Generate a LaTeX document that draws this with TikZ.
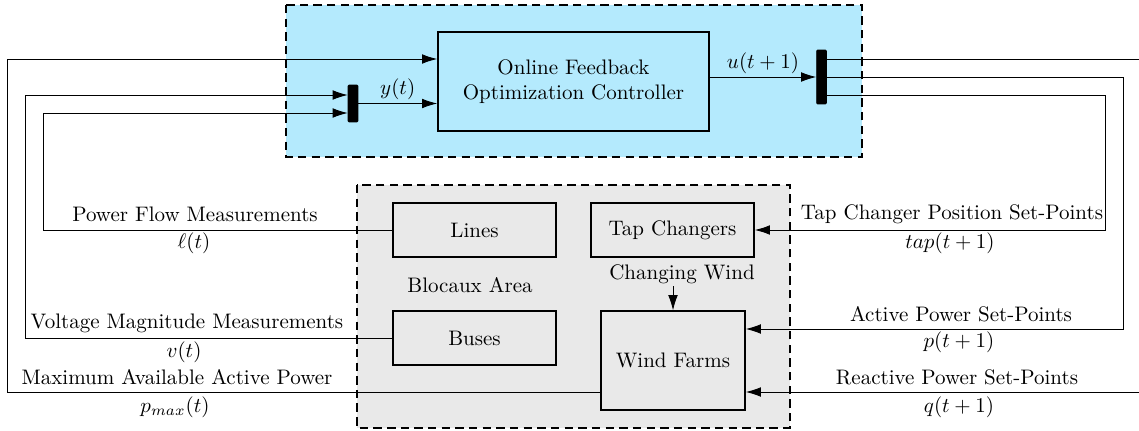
\documentclass[tikz,border=0pt]{standalone}
\usetikzlibrary{arrows.meta}
\definecolor{ctrlblue}{RGB}{180,234,253}
\definecolor{areagray}{RGB}{233,233,233}

\begin{document}
\begin{tikzpicture}[x=0.476pt,y=-0.476pt,
    block/.style={draw,thick,minimum width=77.6pt,minimum height=25.7pt,inner sep=2pt},
    mux/.style={draw,fill=black,rounded corners=0.5pt,minimum width=4.6pt,inner sep=0pt},
    sig/.style={-{Latex[length=7.2pt,width=4.6pt]}},
    zone/.style={thick,dash pattern=on 4pt off 2.5pt}]
    \useasboundingbox (0,0) rectangle (1139,431);
    \filldraw[zone,fill=ctrlblue] (286,5) rectangle (862,157);
    \filldraw[zone,fill=areagray] (357,185) rectangle (790,428);
    \node[block,minimum width=129pt,minimum height=47pt,align=center] (ofo) at (573.5,81.5) {Online Feedback\\Optimization Controller};
    \node[mux,minimum height=17.6pt] (ymux) at (353,103.5) {};
    \node[mux,minimum height=25.7pt] (umux) at (821.5,77) {};
    \node[block] (lines) at (474.5,230) {Lines};
    \node[block] (buses) at (474.5,338) {Buses};
    \node[block] (tap) at (672.5,230) {Tap Changers};
    \node[block,minimum width=68.5pt,minimum height=47pt] (wind) at (673,360.5) {Wind Farms};
    \node (area) at (470,285) {Blocaux Area};
    \node[inner sep=1pt] (gust) at (682,274) {Changing Wind};
    \coordinate (pmaxbot) at (7,392);
    \coordinate (pmaxtop) at (7,59);
    \coordinate (vbot) at (25,338);
    \coordinate (vtop) at (25,95);
    \coordinate (lbot) at (43,230);
    \coordinate (ltop) at (43,113);
    \coordinate (qtop) at (1140,59);
    \coordinate (qbot) at (1140,392);
    \coordinate (ptop) at (1123,77);
    \coordinate (pbot) at (1123,329);
    \coordinate (ttop) at (1105,95);
    \coordinate (tbot) at (1105,230);
    \draw[sig] (wind.west |- pmaxbot) -- (pmaxbot) -- (pmaxtop) -- (ofo.west |- pmaxtop);
    \draw[sig] (buses.west) -- (vbot) -- (vtop) -- (ymux.west |- vtop);
    \draw[sig] (lines.west) -- (lbot) -- (ltop) -- (ymux.west |- ltop);
    \draw[sig] (ymux.east) -- node[above,inner sep=1.5pt] {$y(t)$} (ofo.west |- ymux.east);
    \draw[sig] (ofo.east |- umux.west) -- node[above,inner sep=1.5pt] {$u(t+1)$} (umux.west);
    \draw[sig] (umux.east |- qtop) -- (qtop) -- (qbot) -- (wind.east |- qbot);
    \draw[sig] (umux.east) -- (ptop) -- (pbot) -- (wind.east |- pbot);
    \draw[sig] (umux.east |- ttop) -- (ttop) -- (tbot) -- (tap.east);
    \draw[sig] (gust.south -| wind.north) -- (wind.north);
    \path (195,214) node {Power Flow Measurements}
          (194,243) node {$\ell(t)$}
          (187,323) node {Voltage Magnitude Measurements}
          (184,352) node {$v(t)$}
          (177,377) node {Maximum Available Active Power}
          (175,407) node {$p_{max}(t)$}
          (952,214) node {Tap Changer Position Set-Points}
          (950,243) node {$tap(t+1)$}
          (961,314) node {Active Power Set-Points}
          (959,342) node {$p(t+1)$}
          (957,377) node {Reactive Power Set-Points}
          (959,407) node {$q(t+1)$};
\end{tikzpicture}
\end{document}
